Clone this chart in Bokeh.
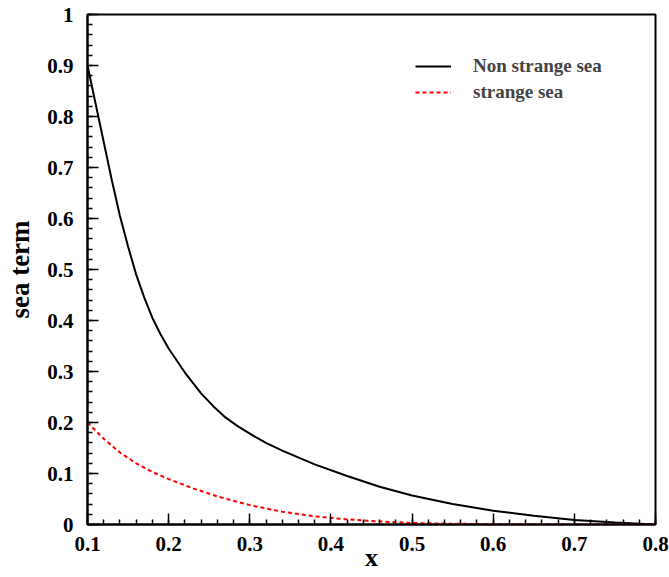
from bokeh.plotting import figure
from bokeh.models import Range1d, Legend, LegendItem, FixedTicker
from bokeh.embed import file_html
from bokeh.resources import INLINE

# data
x_nonstrange = [0.10, 0.11, 0.12, 0.13, 0.14, 0.15, 0.16, 0.17, 0.18, 0.19, 0.20, 0.22, 0.24, 0.255, 0.27,
                0.285, 0.30, 0.32, 0.34, 0.38, 0.42, 0.46, 0.50, 0.55, 0.60, 0.65, 0.70, 0.75, 0.80]
y_nonstrange = [0.900, 0.825, 0.750, 0.675, 0.605, 0.545, 0.490, 0.445, 0.405, 0.373, 0.345, 0.298, 0.257, 0.232, 0.210,
                0.193, 0.178, 0.160, 0.145, 0.118, 0.095, 0.074, 0.057, 0.040, 0.027, 0.017, 0.009, 0.004, 0.000]
x_strange = [0.10, 0.12, 0.14, 0.16, 0.18, 0.20, 0.23, 0.26, 0.30, 0.34, 0.38, 0.42,
             0.46, 0.50, 0.55, 0.60, 0.70, 0.80]
y_strange = [0.200, 0.168, 0.141, 0.120, 0.103, 0.089, 0.071, 0.055, 0.038, 0.025, 0.016, 0.010,
             0.006, 0.003, 0.0015, 0.0007, 0.0002, 0.000]
x_ticks = [0.1, 0.2, 0.3, 0.4, 0.5, 0.6, 0.7, 0.8]
y_ticks = [0, 0.1, 0.2, 0.3, 0.4, 0.5, 0.6, 0.7, 0.8, 0.9, 1]
series_labels = ["Non strange sea", "strange sea"]

FONT = "Liberation Serif"

p = figure(width=669, height=577, output_backend="svg", toolbar_location=None,
           x_range=Range1d(0.1, 0.8), y_range=Range1d(0, 1),
           min_border_left=87, min_border_right=14, min_border_top=14, min_border_bottom=53,
           background_fill_color="white", border_fill_color="white")
p.grid.visible = False
p.outline_line_color = "black"
p.outline_line_width = 2

minor = [round(i * 0.02, 3) for i in range(0, 51)]
for ax, ticks in ((p.xaxis[0], x_ticks), (p.yaxis[0], y_ticks)):
    ax.ticker = FixedTicker(ticks=ticks, minor_ticks=minor)
    ax.axis_line_width = 2
    ax.axis_line_color = "black"
    ax.major_tick_in = 11
    ax.major_tick_out = 0
    ax.minor_tick_in = 5
    ax.minor_tick_out = 0
    ax.major_tick_line_width = 1.5
    ax.minor_tick_line_width = 1.5
    ax.major_label_text_font = FONT
    ax.major_label_text_font_style = "bold"
    ax.major_label_text_font_size = "21px"
    ax.major_label_text_color = "black"
    ax.axis_label_text_font = FONT
    ax.axis_label_text_font_style = "bold"
    ax.axis_label_text_color = "black"

p.yaxis.major_label_overrides = {0: "0", 1: "1"}
p.xaxis.axis_label = "x"
p.xaxis.axis_label_text_font_size = "26px"
p.xaxis.major_label_standoff = 12
p.xaxis.axis_label_standoff = -11
p.yaxis.axis_label = "sea term"
p.yaxis.axis_label_text_font_size = "27px"
p.yaxis.major_label_standoff = 14
p.yaxis.axis_label_standoff = 9

r1 = p.line(x_nonstrange, y_nonstrange, line_color="black", line_width=2)
r2 = p.line(x_strange, y_strange, line_color="red", line_width=2, line_dash="4 3")

legend = Legend(items=[LegendItem(label=series_labels[0], renderers=[r1]),
                       LegendItem(label=series_labels[1], renderers=[r2])],
                location=(328, 421),
                border_line_color=None, background_fill_alpha=0,
                padding=0, margin=0, spacing=4,
                glyph_width=36, glyph_height=20, label_height=20,
                label_standoff=22,
                label_text_font=FONT, label_text_font_style="bold",
                label_text_font_size="19px")
p.add_layout(legend)

open("out.html", "w").write(file_html(p, INLINE))
